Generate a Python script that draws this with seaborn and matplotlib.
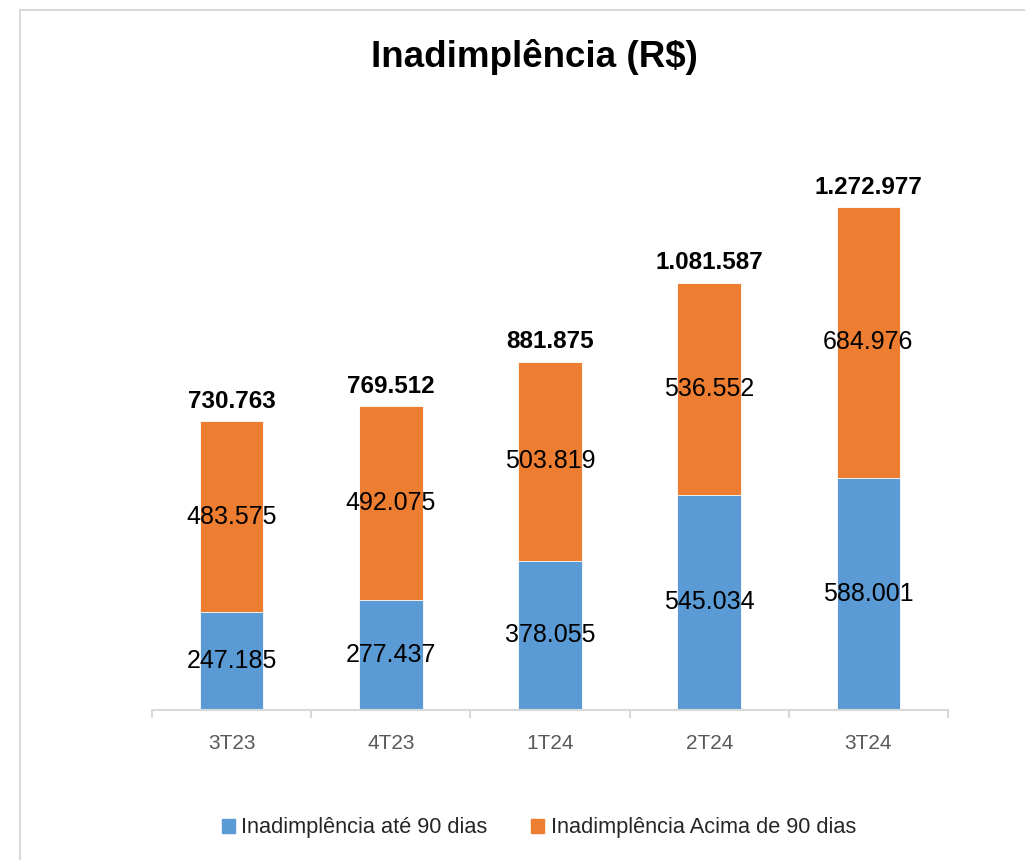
import matplotlib
matplotlib.use("Agg")
import matplotlib.pyplot as plt
import matplotlib.patches as mpatches
import seaborn as sns
import numpy as np

# ==========================================================
# Dados
# ==========================================================

trimestres = ["3T23", "4T23", "1T24", "2T24", "3T24"]
ate_90 = [247185, 277437, 378055, 545034, 588001]
acima_90 = [483575, 492075, 503819, 536552, 684976]
totais = [730763, 769512, 881875, 1081587, 1272977]

azul = "#5B9BD5"
laranja = "#ED7D31"
cinza = "#D9D9D9"


def fmt(v):
    return f"{v:,}".replace(",", ".")


sns.set_style("white")
plt.rcParams["font.family"] = ["Liberation Sans", "DejaVu Sans"]

fig = plt.figure(figsize=(10.25, 8.6), dpi=100)
ax = fig.add_axes([152 / 1025, 150 / 860, 796 / 1025, 580 / 860])

# barras empilhadas: total (laranja) atras, ate 90 dias (azul) na frente
empilhado = [a + b for a, b in zip(ate_90, acima_90)]

sns.barplot(x=trimestres, y=empilhado, color=laranja, saturation=1,
            width=0.4, ax=ax, edgecolor="white", linewidth=0.6)
sns.barplot(x=trimestres, y=ate_90, color=azul, saturation=1,
            width=0.4, ax=ax, edgecolor="white", linewidth=0.6)

ax.set_xlim(-0.5, 4.5)
ax.set_ylim(0, 1468000)

# rotulos
for i in range(len(trimestres)):
    ax.text(i, ate_90[i] / 2, fmt(ate_90[i]), ha="center", va="center",
            fontsize=18, color="black")
    ax.text(i, ate_90[i] + acima_90[i] / 2, fmt(acima_90[i]), ha="center",
            va="center", fontsize=18, color="black")
    ax.annotate(fmt(totais[i]), (i, empilhado[i]), xytext=(0, 6),
                textcoords="offset points", ha="center", va="bottom",
                fontsize=17.5, fontweight="bold", color="black")

# eixos
for s in ["top", "right", "left"]:
    ax.spines[s].set_visible(False)
ax.spines["bottom"].set_color(cinza)
ax.spines["bottom"].set_linewidth(1.5)
ax.set_yticks([])
ax.set_xlabel("")
ax.set_ylabel("")
ax.set_xticks(range(len(trimestres)))
ax.set_xticklabels(trimestres, fontsize=15, color="#595959")
ax.tick_params(axis="x", which="major", bottom=False, length=0, pad=17)
ax.set_xticks(np.arange(-0.5, 5, 1), minor=True)
ax.tick_params(axis="x", which="minor", bottom=True, length=6, width=1.5,
               color=cinza, direction="out")

# titulo
fig.text(534 / 1025, 1 - 57 / 860, "Inadimplência (R$)", ha="center",
         va="center", fontsize=26.5, fontweight="bold", color="black")

# legenda
handles = [mpatches.Patch(color=azul, label="Inadimplência até 90 dias"),
           mpatches.Patch(color=laranja, label="Inadimplência Acima de 90 dias")]
fig.legend(handles=handles, loc="center", bbox_to_anchor=(539 / 1025, 1 - 828 / 860),
           ncol=2, frameon=False, fontsize=15.7, handlelength=0.6, handleheight=0.6,
           handletextpad=0.3, columnspacing=2.0)

# moldura
fig.patches.append(mpatches.Rectangle((20 / 1025, -0.1), 1.1, 0.1 + (1 - 10 / 860),
                                      transform=fig.transFigure, fill=False,
                                      edgecolor=cinza, linewidth=1.5))

fig.savefig("out.png", dpi=100)
